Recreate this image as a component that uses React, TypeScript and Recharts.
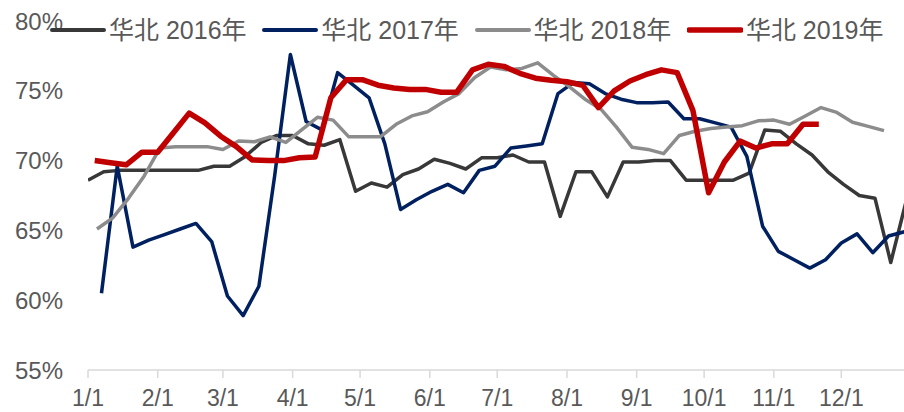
import { LineChart, Line, XAxis, YAxis, Legend } from "recharts";

// weekly utilisation rate, North China (华北), one array per year
const rate2016 = [
  68.6, 69.2, 69.3, 69.3, 69.3, 69.3, 69.3, 69.3, 69.6, 69.6, 70.3, 71.3, 71.8, 71.8,
  71.2, 71.1, 71.5, 67.8, 68.4, 68.1, 69.0, 69.4, 70.1, 69.8, 69.4, 70.2, 70.2, 70.4,
  69.9, 69.9, 66.0, 69.2, 69.2, 67.4, 69.9, 69.9, 70.0, 70.0, 68.6, 68.6, 68.6, 68.6,
  69.1, 72.2, 72.1, 71.2, 70.4, 69.2, 68.3, 67.5, 67.3, 62.7, 67.2
];
const rate2017 = [
  60.5, 69.6, 63.8, 64.3, 64.7, 65.1, 65.5, 64.2, 60.3, 58.9, 61.0, 68.9, 77.6, 72.8,
  72.2, 76.3, 75.4, 74.5, 71.2, 66.5, 67.2, 67.8, 68.3, 67.7, 69.3, 69.6, 70.9, 71.05,
  71.2, 74.8, 75.6, 75.5, 74.8, 74.4, 74.15, 74.15, 74.2, 73.0, 73.0, 72.7, 72.4, 70.3,
  65.3, 63.5, 62.9, 62.3, 62.9, 64.1, 64.75, 63.4, 64.6, 64.9
];
const rate2018 = [
  65.1, 65.9, 67.3, 68.9, 70.9, 71.0, 71.0, 71.0, 70.8, 71.4, 71.35, 71.7, 71.3, 72.2,
  73.1, 72.9, 71.7, 71.7, 71.7, 72.6, 73.2, 73.5, 74.2, 74.8, 75.95, 76.7, 76.5, 76.6,
  77.0, 76.1, 75.3, 74.4, 73.7, 72.4, 70.95, 70.8, 70.5, 71.8, 72.1, 72.3, 72.4, 72.5,
  72.85, 72.9, 72.6, 73.2, 73.8, 73.45, 72.75, 72.45, 72.15
];
const rate2019 = [
  70.0, 69.85, 69.7, 70.6, 70.6, 72.0, 73.4, 72.7, 71.75, 71.0, 70.05, 70.0, 70.0, 70.2,
  70.25, 74.5, 75.8, 75.8, 75.4, 75.2, 75.1, 75.1, 74.9, 74.9, 76.5, 76.9, 76.75, 76.25,
  75.9, 75.75, 75.65, 75.4, 73.8, 75.0, 75.7, 76.15, 76.5, 76.3, 73.6, 67.7, 69.9, 71.4,
  70.9, 71.2, 71.2, 72.6, 72.6
];

const seriesNames = ["华北 2016年", "华北 2017年", "华北 2018年", "华北 2019年"];
const seriesColors = ["#383838", "#002060", "#8c8c8c", "#c00000"];
const seriesWidths = [3.5, 3.5, 3.5, 5.5];
const firstDates = ["1/1", "1/7", "1/5", "1/4"];

const monthTicks = [0, 31, 60, 91, 121, 152, 182, 213, 244, 274, 305, 335];
const monthLabels = ["1/1", "2/1", "3/1", "4/1", "5/1", "6/1", "7/1", "8/1", "9/1", "10/1", "11/1", "12/1"];
const yTicks = [55, 60, 65, 70, 75, 80];

const FONT = '"Liberation Sans", Arial, "Noto Sans CJK SC", sans-serif';
const TEXT = "#595959";

const dayOfYear = (md: string) => {
  const [m, d] = md.split("/").map(Number);
  return monthTicks[m - 1] + d - 1;
};

const weekly = (values: number[], first: string) => {
  const start = dayOfYear(first);
  return values.map((v, i) => ({ day: start + 7 * i, value: v }));
};

const allRates = [rate2016, rate2017, rate2018, rate2019];
const series = allRates.map((r, i) => weekly(r, firstDates[i]));

const renderLegend = () => (
  <div style={{ display: "flex", fontFamily: FONT, fontSize: 25, color: TEXT }}>
    {seriesNames.map((name, i) => (
      <div key={name} style={{ width: 212.3, display: "flex", alignItems: "center" }}>
        <svg width={56} height={12} style={{ marginRight: 3 }}>
          <line x1={2} y1={6} x2={54} y2={6} stroke={seriesColors[i]}
            strokeWidth={i === 3 ? 5.5 : 4} strokeLinecap="round" />
        </svg>
        <span style={{ whiteSpace: "nowrap", lineHeight: "28px" }}>{name}</span>
      </div>
    ))}
  </div>
);

export default function App() {
  return (
    <div
      style={{
        position: "fixed",
        left: 0,
        top: 0,
        width: 904,
        height: 412,
        overflow: "hidden",
        background: "#fff"
      }}
    >
      <LineChart width={911} height={412} margin={{ top: 21, right: 0, bottom: 0, left: 0 }}>
        <XAxis
          dataKey="day"
          type="number"
          domain={[0, 366]}
          ticks={monthTicks}
          tickFormatter={(v: number) => monthLabels[monthTicks.indexOf(v)]}
          allowDataOverflow
          height={42}
          stroke="#d9d9d9"
          strokeWidth={1.5}
          tickSize={8}
          tickMargin={12}
          tick={{ fill: TEXT, fontSize: 23, fontFamily: FONT }}
          interval={0}
        />
        <YAxis
          type="number"
          domain={[55, 80]}
          ticks={yTicks}
          width={88}
          axisLine={false}
          tickLine={false}
          tickSize={0}
          tickMargin={25}
          tickFormatter={(v: number) => `${v}%`}
          tick={{ fill: TEXT, fontSize: 24, fontFamily: FONT }}
          interval={0}
        />
        <Legend
          content={renderLegend}
          verticalAlign="middle"
          align="center"
          wrapperStyle={{ top: 16, left: 50, width: 860 }}
        />
        {series.map((data, i) => (
          <Line
            key={seriesNames[i]}
            data={data}
            dataKey="value"
            name={seriesNames[i]}
            type="linear"
            stroke={seriesColors[i]}
            strokeWidth={seriesWidths[i]}
            strokeLinejoin="round"
            dot={false}
            activeDot={false}
            isAnimationActive={false}
          />
        ))}
      </LineChart>
    </div>
  );
}
